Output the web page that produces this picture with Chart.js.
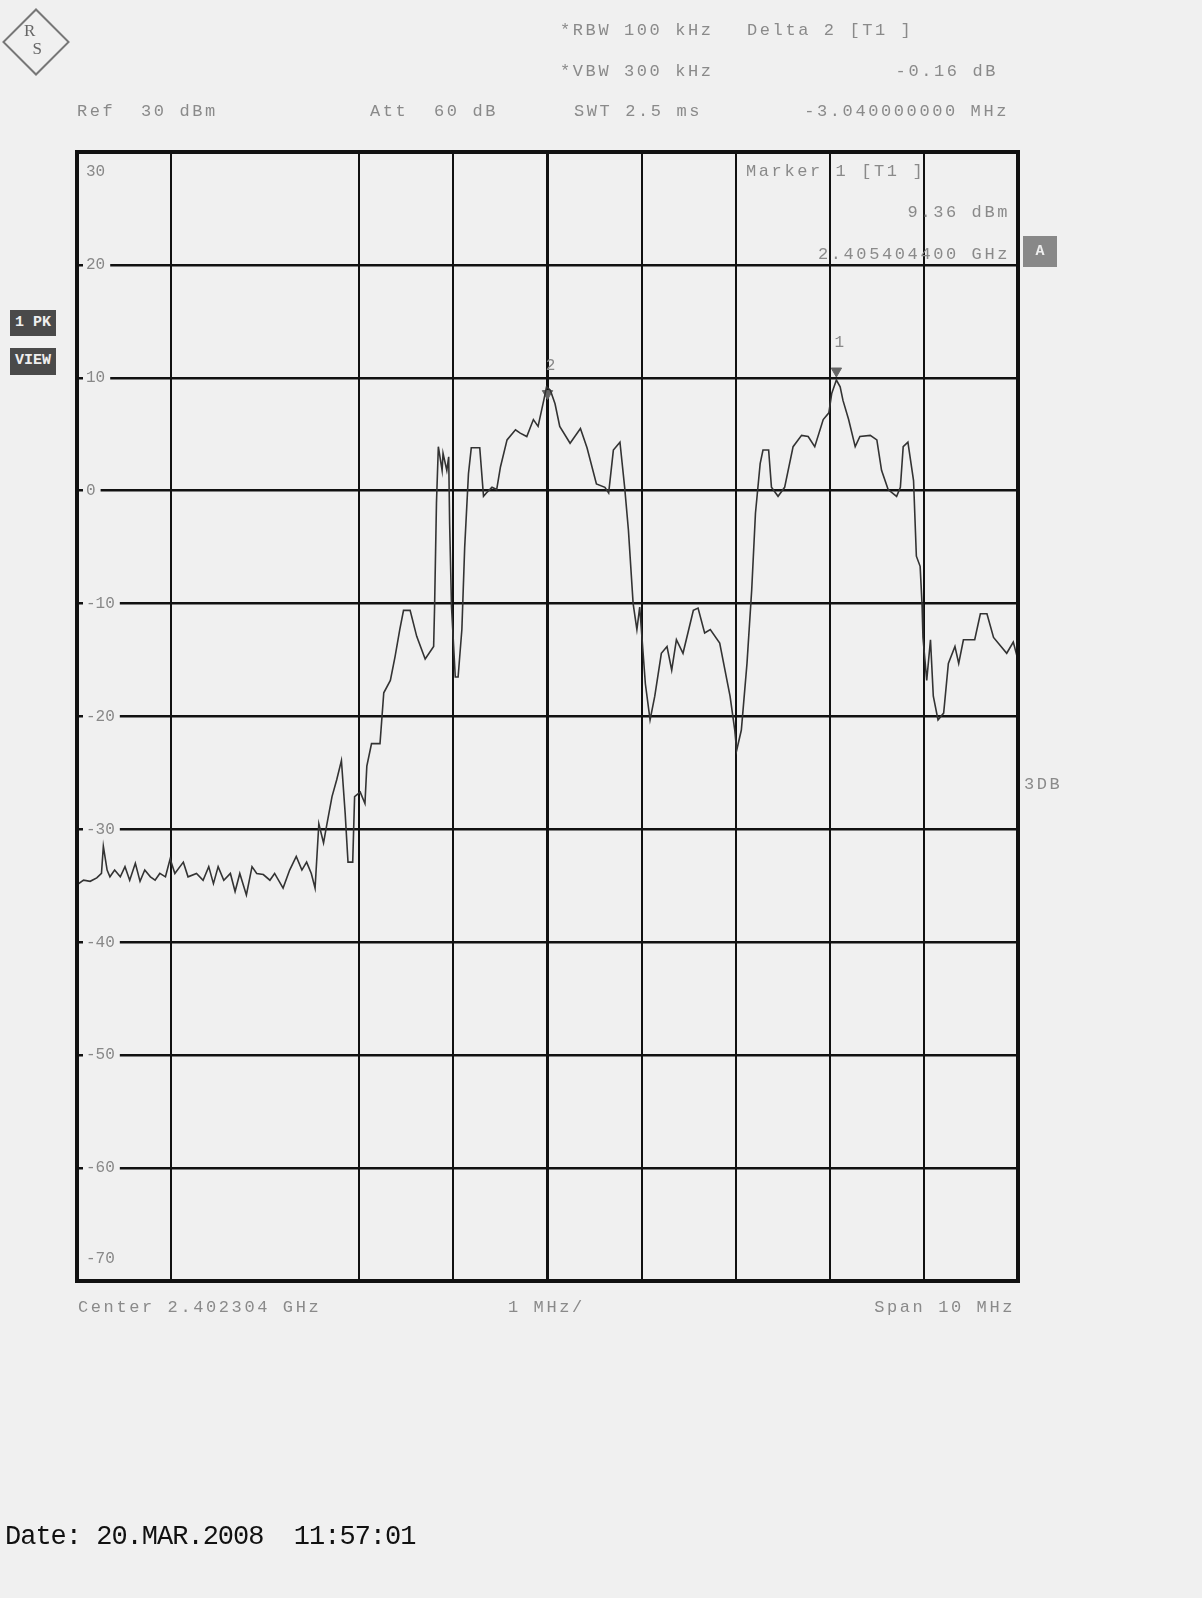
<!DOCTYPE html>
<html>
<head>
<meta charset="utf-8">
<script src="https://cdn.jsdelivr.net/npm/chart.js@4"></script>
<style>
  html, body { margin:0; padding:0; background:#f0f0f0; }
  #wrap { position:relative; width:1202px; height:1598px; overflow:hidden; }
  canvas { position:absolute; left:0; top:0; }
  .t { position:absolute; font-family:"Liberation Mono","DejaVu Sans Mono",monospace; font-size:17px; color:#8a8a8a; white-space:pre; line-height:20px; letter-spacing:2.6px; }
  .r { text-align:right; }
  .box { position:absolute; background:#4a4a4a; color:#eee; font-family:"Liberation Mono",monospace; font-weight:bold; font-size:15px; text-align:center; line-height:25px; }
  .date { position:absolute; left:5px; top:1522px; font-family:"Liberation Mono",monospace; font-size:27px; color:#111; white-space:pre; letter-spacing:-1px; }
  .logo { position:absolute; left:12px; top:18px; width:44px; height:44px; border:2px solid #777; transform:rotate(45deg); }
  .logotxt { position:absolute; left:24px; top:22px; font-family:"Liberation Serif",serif; font-size:17px; color:#666; line-height:18px; }
</style>
</head>
<body>
<div id="wrap">
  <canvas id="c" width="1202" height="1598"></canvas>
  <div class="logo"></div>
  <div class="logotxt">R<br>&nbsp;&nbsp;S</div>
  <div class="t" style="left:560px;top:21px">*RBW 100 kHz</div>
  <div class="t" style="left:747px;top:21px">Delta 2 [T1 ]</div>
  <div class="t" style="left:560px;top:62px">*VBW 300 kHz</div>
  <div class="t r" style="left:800px;width:198px;top:62px">-0.16 dB</div>
  <div class="t" style="left:77px;top:102px">Ref  30 dBm</div>
  <div class="t" style="left:370px;top:102px">Att  60 dB</div>
  <div class="t" style="left:574px;top:102px">SWT 2.5 ms</div>
  <div class="t r" style="left:740px;width:269px;top:102px">-3.040000000 MHz</div>
  <div class="t" style="left:746px;top:162px">Marker 1 [T1 ]</div>
  <div class="t r" style="left:860px;width:150px;top:203px">9.36 dBm</div>
  <div class="t r" style="left:780px;width:230px;top:245px">2.405404400 GHz</div>
  <div class="box" style="left:1023px;top:236px;width:34px;height:31px;line-height:31px;background:#888">A</div>
  <div class="box" style="left:10px;top:310px;width:46px;height:26px">1 PK</div>
  <div class="box" style="left:10px;top:348px;width:46px;height:27px">VIEW</div>
  <div class="t" style="left:1024px;top:775px">3DB</div>
  <div class="t" style="left:78px;top:1298px">Center 2.402304 GHz</div>
  <div class="t" style="left:508px;top:1298px">1 MHz/</div>
  <div class="t r" style="left:780px;width:235px;top:1298px">Span 10 MHz</div>
  <div class="date">Date: 20.MAR.2008  11:57:01</div>
</div>
<script>
// trace: x in divisions (1 MHz each, 0..10), y in dBm
const traceX = [0,0.07,0.14,0.21,0.26,0.28,0.32,0.35,0.40,0.46,0.51,0.56,0.62,0.67,0.72,0.78,0.83,0.88,0.94,0.99,1.04,1.13,1.18,1.27,1.34,1.40,1.45,1.50,1.56,1.63,1.68,1.73,1.80,1.86,1.91,1.98,2.05,2.10,2.19,2.26,2.33,2.39,2.44,2.49,2.53,
  2.57,2.62,2.65,2.71,2.76,2.81,2.85,2.88,2.93,2.95,3.01,3.06,3.08,3.13,3.22,3.26,3.33,3.38,3.43,3.47,3.54,3.61,3.70,3.79,
  3.80,3.82,3.84,3.88,3.89,3.93,3.95,3.96,3.98,4.02,4.05,4.09,4.12,4.16,4.19,4.28,4.32,4.35,4.41,4.46,4.50,4.57,4.66,4.71,4.78,4.85,4.90,4.96,4.99,5.03,5.08,5.13,5.24,5.35,5.42,5.52,5.61,5.65,5.70,5.77,5.82,5.86,5.91,5.95,5.98,6.04,6.09,6.14,6.21,6.27,6.32,6.37,6.44,6.55,6.60,6.67,6.73,6.83,6.94,6.99,
  7.01,7.06,7.12,7.17,7.21,7.26,7.29,7.35,7.38,7.45,7.52,7.61,7.70,7.77,7.84,7.93,7.99,8.02,8.07,8.11,8.14,8.20,8.27,8.32,8.43,8.50,8.55,8.62,8.71,8.75,8.78,8.83,8.89,8.92,8.96,8.98,8.99,9.03,9.07,9.10,9.15,9.21,9.26,9.33,9.37,9.42,9.54,9.60,9.67,9.74,9.88,9.95,10];
const traceY = [-34.9,-34.5,-34.6,-34.3,-33.9,-31.5,-33.6,-34.2,-33.6,-34.2,-33.3,-34.5,-33.0,-34.6,-33.6,-34.2,-34.5,-33.9,-34.2,-32.6,-33.9,-32.9,-34.2,-33.9,-34.5,-33.3,-34.8,-33.3,-34.5,-33.9,-35.5,-33.9,-35.8,-33.3,-33.9,-34.0,-34.5,-33.9,-35.2,-33.6,-32.4,-33.6,-32.9,-33.9,-35.2,
  -29.5,-31.2,-29.8,-27.1,-25.6,-23.9,-28.6,-32.9,-32.9,-27.1,-26.7,-27.7,-24.4,-22.4,-22.4,-17.9,-16.8,-14.7,-12.3,-10.6,-10.6,-12.9,-14.9,-13.8,
  -10.3,-1.1,3.9,1.8,3.3,1.8,3.0,-2.9,-10.3,-16.5,-16.5,-12.3,-5.0,1.5,3.8,3.8,-0.5,-0.2,0.3,0.1,2.1,4.5,5.4,5.1,4.8,6.3,5.7,8.0,9.2,8.9,7.7,5.7,4.2,5.5,3.8,0.6,0.3,-0.2,3.6,4.3,0.3,-3.5,-10.0,-12.3,-10.3,-17.1,-20.3,-18.2,-14.4,-13.8,-15.9,-13.2,-14.4,-10.6,-10.4,-12.6,-12.3,-13.5,-18.2,-21.2,
  -23.0,-21.2,-15.3,-8.8,-2.0,2.4,3.6,3.6,0.3,-0.5,0.3,3.9,4.9,4.8,3.9,6.3,6.9,8.6,9.8,9.2,8.0,6.3,3.9,4.8,4.9,4.5,1.8,0.1,-0.5,0.3,3.9,4.3,0.9,-5.8,-6.7,-10.0,-13.0,-16.8,-13.2,-18.2,-20.3,-19.7,-15.3,-13.8,-15.3,-13.2,-13.2,-10.9,-10.9,-13.0,-14.4,-13.4,-15.0];

const markerX = [8.07, 5.0];
const markerY = [10.6, 8.6];
const markerNames = ['1', '2'];
const yTicks = [30, 20, 10, 0, -10, -20, -30, -40, -50, -60, -70];

const frame = {
  id: 'frame',
  afterDraw(chart) {
    const { ctx, chartArea: a, scales } = chart;
    ctx.save();
    ctx.strokeStyle = '#111';
    ctx.lineWidth = 4;
    ctx.strokeRect(a.left, a.top, a.right - a.left, a.bottom - a.top);
    ctx.font = '16px "Liberation Mono", monospace';
    ctx.textBaseline = 'middle';
    yTicks.forEach(v => {
      let y = scales.y.getPixelForValue(v);
      if (v === 30) y += 20;
      if (v === -70) y -= 22;
      const label = String(v);
      const w = ctx.measureText(label).width;
      if (v !== 30 && v !== -70) {
        ctx.fillStyle = '#f0f0f0';
        ctx.fillRect(a.left + 6, y - 4, w + 8, 8);
      }
      ctx.fillStyle = '#888';
      ctx.fillText(label, a.left + 9, y);
    });
    ctx.textAlign = 'center';
    markerX.forEach((x, i) => {
      ctx.fillText(markerNames[i], scales.x.getPixelForValue(x) + 3, scales.y.getPixelForValue(markerY[i]) - 28);
    });
    ctx.restore();
  }
};

new Chart(document.getElementById('c'), {
  type: 'line',
  data: {
    datasets: [
      { data: traceX.map((x, i) => ({ x, y: traceY[i] })), borderColor: '#333', borderWidth: 1.6, pointRadius: 0, tension: 0 },
      { data: markerX.map((x, i) => ({ x, y: markerY[i] })), showLine: false, pointStyle: 'triangle', rotation: 180, pointRadius: 6, backgroundColor: '#666', borderColor: '#666' }
    ]
  },
  options: {
    responsive: false,
    animation: false,
    layout: { padding: { left: 77, top: 152, right: 184, bottom: 317 } },
    plugins: { legend: { display: false }, tooltip: { enabled: false } },
    scales: {
      x: {
        type: 'linear', min: 0, max: 10,
        ticks: { display: false, stepSize: 1 },
        border: { display: false },
        grid: { drawTicks: false, color: c => c.tick.value === 2 ? 'rgba(0,0,0,0)' : '#111', lineWidth: c => c.tick.value === 5 ? 3 : 2 }
      },
      y: {
        min: -70, max: 30,
        ticks: { display: false, stepSize: 10 },
        border: { display: false },
        grid: { drawTicks: false, color: '#111', lineWidth: 2.5 }
      }
    }
  },
  plugins: [frame]
});
</script>
</body>
</html>
